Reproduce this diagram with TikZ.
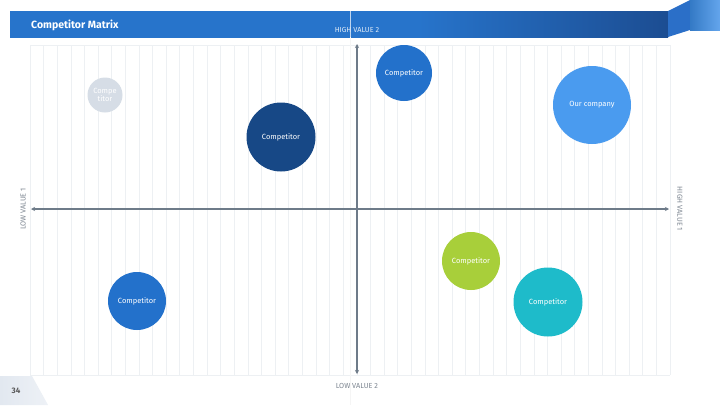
\documentclass[tikz,border=0pt]{standalone}
\usepackage{fontspec}
\setmainfont{Fira Sans}
\usetikzlibrary{arrows.meta}
\definecolor{hdrA}{HTML}{2774CB}
\definecolor{hdrB}{HTML}{1C4D92}
\definecolor{foldc}{HTML}{2B6FC8}
\definecolor{tabc}{HTML}{3D8FE8}
\definecolor{gridc}{HTML}{EDF0F3}
\definecolor{axisc}{HTML}{6E7B89}
\definecolor{lblc}{HTML}{7D8691}
\definecolor{cgray}{HTML}{D6DDE6}
\definecolor{cnavy}{HTML}{174886}
\definecolor{cblue}{HTML}{2371CB}
\definecolor{clight}{HTML}{4A9BEF}
\definecolor{clime}{HTML}{A8CF3A}
\definecolor{cteal}{HTML}{1EBBCA}
\definecolor{pagec}{HTML}{E2E8F0}
\pgfdeclarehorizontalshading{hdrshade}{100bp}{color(0bp)=(hdrA); color(56bp)=(hdrA); color(75bp)=(hdrB); color(100bp)=(hdrB)}
\tikzset{
  bubble/.style={circle, inner sep=0pt, text=white, font=\fontsize{7.5}{8.5}\selectfont, align=center},
  axisline/.style={draw=axisc, line width=1.3pt, -{Stealth[length=4pt,width=4pt]}},
  axlabel/.style={text=lblc, font=\fontsize{7.3}{8}\selectfont, inner sep=0pt}
}
\begin{document}
\begin{tikzpicture}[x=1pt,y=-1pt]
\useasboundingbox (0,0) rectangle (720,405);
\fill[white] (0,0) rectangle (720,405);
% header
\shade[shading=hdrshade] (10,11) rectangle (668,37);
\fill[foldc] (668,11) -- (690,0) -- (690,30) -- (668,37) -- cycle;
\shade[left color=tabc!85!black, right color=tabc!80!white] (690,0) rectangle (720,30);
\node[anchor=base west, text=white, font=\bfseries\fontsize{10.5}{12}\selectfont, inner sep=0pt] (title) at (31,28) {Competitor Matrix};
% grid
\foreach \i in {0,...,47} {
  \draw[gridc, line width=0.6pt] (30+\i*13.617,45) -- (30+\i*13.617,375);
}
\draw[gridc, line width=0.6pt] (30,45) -- (670,45);
\draw[gridc, line width=0.6pt] (30,375) -- (670,375);
% guide line
\draw[white!92!gray, line width=0.5pt] (350,37) -- (350,405);
\draw[white!70!hdrA, line width=0.7pt] (350,11) -- (350,37);
% axes
\coordinate (o) at (357,209);
\coordinate (L) at (31,209);
\coordinate (R) at (669,209);
\coordinate (T) at (357,44);
\coordinate (B) at (357,374);
\draw[axisline] (o) -- (L);
\draw[axisline] (o) -- (R);
\draw[axisline] (o) -- (T);
\draw[axisline] (o) -- (B);
% axis labels
\node[axlabel, text=white!85!hdrA] (hv2) at (357,30) {HIGH VALUE 2};
\node[axlabel] (lv2) at (357,386) {LOW VALUE 2};
\node[axlabel, rotate=90] (lv1) at (23,209) {LOW VALUE 1};
\node[axlabel, rotate=-90] (hv1) at (680,209) {HIGH VALUE 1};
% bubbles
\node[bubble, fill=cgray, minimum size=35pt] (c1) at (105,95) {Compe\\titor};
\node[bubble, fill=cnavy, minimum size=69pt] (c2) at (281,137) {Competitor};
\node[bubble, fill=cblue, minimum size=56pt] (c3) at (404,73) {Competitor};
\node[bubble, fill=clight, minimum size=78pt] (c4) at (592,105) {Our company};
\node[bubble, fill=clime, minimum size=58pt] (c5) at (471,261) {Competitor};
\node[bubble, fill=cteal, minimum size=69pt] (c6) at (548,302) {Competitor};
\node[bubble, fill=cblue, minimum size=58pt] (c7) at (137,301) {Competitor};
% page number
\shade[left color=pagec, right color=pagec!60!white] (0,376) -- (32,376) -- (48,405) -- (0,405) -- cycle;
\node[text=black!65, font=\bfseries\fontsize{8}{9}\selectfont, inner sep=0pt] (pg) at (16,391) {34};
\end{tikzpicture}
\end{document}
